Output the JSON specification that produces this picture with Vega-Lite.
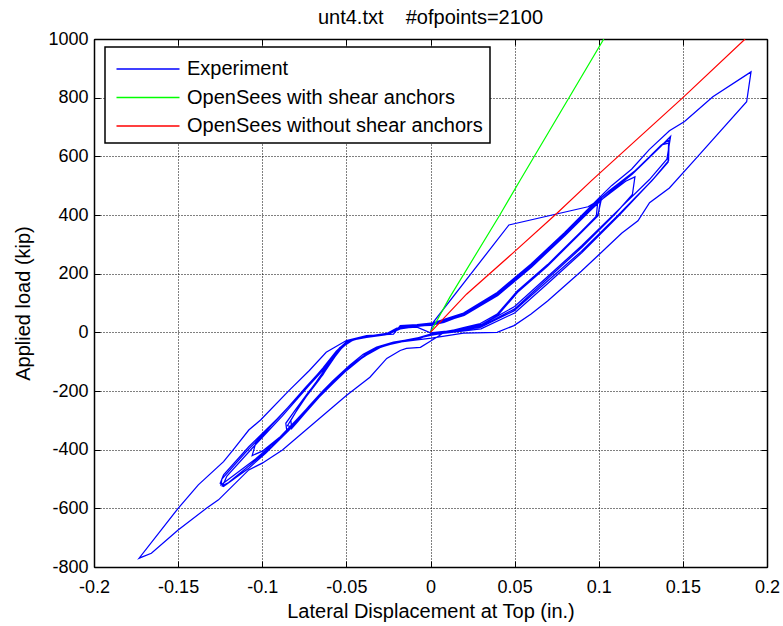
{
  "$schema": "https://vega.github.io/schema/vega-lite/v6.json",
  "width": 673,
  "height": 528,
  "autosize": "none",
  "padding": {"left": 94, "top": 39, "right": 16, "bottom": 59},
  "background": "white",
  "title": {"text": "unt4.txt\u00a0\u00a0\u00a0\u00a0#ofpoints=2100", "font": "Liberation Sans", "fontSize": 20, "fontWeight": "normal", "color": "#000", "offset": 2},
  "datasets": {
    "exp": [
      {"x":0,"y":0},
      {"x":0.0016,"y":34},{"x":0.0466,"y":366},{"x":0.0936,"y":428},{"x":0.1016,"y":455},
      {"x":0.0996,"y":402},{"x":0.0896,"y":344},{"x":0.0696,"y":231},{"x":0.0516,"y":141},{"x":0.0396,"y":62},{"x":0.0296,"y":30},{"x":0.0196,"y":12},{"x":0.0096,"y":4},{"x":0,"y":-2},
      {"x":-0.008,"y":18},{"x":-0.018,"y":14},{"x":-0.024,"y":-4},{"x":-0.04,"y":-16},{"x":-0.048,"y":-30},{"x":-0.054,"y":-60},{"x":-0.06,"y":-110},{"x":-0.066,"y":-160},{"x":-0.074,"y":-220},{"x":-0.081,"y":-280},{"x":-0.085,"y":-318},{"x":-0.083,"y":-322},{"x":-0.078,"y":-290},{"x":-0.072,"y":-250},{"x":-0.064,"y":-200},{"x":-0.058,"y":-165},{"x":-0.048,"y":-112},{"x":-0.04,"y":-75},{"x":-0.032,"y":-50},{"x":-0.022,"y":-33},{"x":-0.01,"y":-22},{"x":0,"y":-8},
      {"x":0.0096,"y":2},{"x":0.0196,"y":16},{"x":0.0296,"y":30},{"x":0.0396,"y":62},{"x":0.0516,"y":136},{"x":0.0696,"y":226},{"x":0.0896,"y":340},{"x":0.0996,"y":398},{"x":0.101,"y":450},{"x":0.0996,"y":445},{"x":0.0896,"y":390},{"x":0.0796,"y":330},{"x":0.0696,"y":278},{"x":0.0596,"y":222},{"x":0.0496,"y":175},{"x":0.0396,"y":128},{"x":0.0296,"y":92},{"x":0.0196,"y":60},{"x":0.0096,"y":38},{"x":0.0016,"y":26},
      {"x":-0.006,"y":25},{"x":-0.018,"y":20},{"x":-0.022,"y":2},{"x":-0.03,"y":-8},{"x":-0.042,"y":-18},{"x":-0.05,"y":-36},{"x":-0.056,"y":-70},{"x":-0.062,"y":-120},{"x":-0.068,"y":-170},{"x":-0.076,"y":-232},{"x":-0.083,"y":-300},{"x":-0.0825,"y":-328},{"x":-0.079,"y":-305},{"x":-0.072,"y":-258},{"x":-0.062,"y":-190},{"x":-0.054,"y":-150},{"x":-0.046,"y":-108},{"x":-0.036,"y":-64},{"x":-0.026,"y":-40},{"x":-0.014,"y":-26},{"x":0,"y":-10},
      {"x":0.01,"y":0},{"x":0.02,"y":14},{"x":0.03,"y":26},{"x":0.04,"y":58},{"x":0.052,"y":138},{"x":0.07,"y":230},{"x":0.09,"y":346},{"x":0.0985,"y":392},{"x":0.0995,"y":452},{"x":0.098,"y":438},{"x":0.089,"y":388},{"x":0.078,"y":322},{"x":0.068,"y":270},{"x":0.058,"y":218},{"x":0.048,"y":170},{"x":0.038,"y":124},{"x":0.028,"y":88},{"x":0.018,"y":56},{"x":0.008,"y":34},{"x":0,"y":24},
      {"x":-0.008,"y":22},{"x":-0.016,"y":18},{"x":-0.024,"y":-2},{"x":-0.036,"y":-12},{"x":-0.046,"y":-24},{"x":-0.052,"y":-46},{"x":-0.058,"y":-90},{"x":-0.064,"y":-145},{"x":-0.072,"y":-200},{"x":-0.08,"y":-262},{"x":-0.086,"y":-310},{"x":-0.0855,"y":-332},{"x":-0.08,"y":-310},{"x":-0.074,"y":-272},{"x":-0.066,"y":-220},{"x":-0.058,"y":-172},{"x":-0.05,"y":-130},{"x":-0.04,"y":-82},{"x":-0.03,"y":-50},{"x":-0.018,"y":-30},{"x":-0.006,"y":-20},{"x":0,"y":-6},
      {"x":0.01,"y":2},{"x":0.03,"y":20},{"x":0.05,"y":80},{"x":0.07,"y":185},{"x":0.09,"y":290},{"x":0.11,"y":405},{"x":0.12,"y":470},{"x":0.1215,"y":530},{"x":0.116,"y":515},{"x":0.1,"y":445},{"x":0.08,"y":335},{"x":0.06,"y":228},{"x":0.04,"y":132},{"x":0.02,"y":62},{"x":0.002,"y":28},
      {"x":-0.008,"y":20},{"x":-0.02,"y":14},{"x":-0.026,"y":-4},{"x":-0.04,"y":-15},{"x":-0.05,"y":-32},{"x":-0.056,"y":-64},{"x":-0.064,"y":-122},{"x":-0.078,"y":-215},{"x":-0.092,"y":-300},{"x":-0.104,"y":-380},{"x":-0.106,"y":-420},{"x":-0.1,"y":-405},{"x":-0.088,"y":-350},{"x":-0.076,"y":-280},{"x":-0.064,"y":-205},{"x":-0.052,"y":-140},{"x":-0.04,"y":-84},{"x":-0.028,"y":-46},{"x":-0.014,"y":-28},{"x":0,"y":-10},
      {"x":0.0096,"y":0},{"x":0.0296,"y":17},{"x":0.0496,"y":73},{"x":0.0696,"y":175},{"x":0.0896,"y":276},{"x":0.1116,"y":400},{"x":0.1314,"y":516},{"x":0.1412,"y":580},{"x":0.1415,"y":645},{"x":0.1373,"y":639},{"x":0.1195,"y":538},{"x":0.1047,"y":475},{"x":0.0996,"y":448},{"x":0.0796,"y":336},{"x":0.0596,"y":228},{"x":0.0396,"y":132},{"x":0.0196,"y":64},{"x":0.0016,"y":30},
      {"x":-0.008,"y":23},{"x":-0.018,"y":17},{"x":-0.026,"y":-6},{"x":-0.04,"y":-16},{"x":-0.048,"y":-28},{"x":-0.054,"y":-52},{"x":-0.06,"y":-98},{"x":-0.074,"y":-186},{"x":-0.088,"y":-277},{"x":-0.108,"y":-390},{"x":-0.123,"y":-486},{"x":-0.125,"y":-515},{"x":-0.123,"y":-525},{"x":-0.108,"y":-463},{"x":-0.098,"y":-412},{"x":-0.084,"y":-333},{"x":-0.072,"y":-254},{"x":-0.058,"y":-175},{"x":-0.048,"y":-119},{"x":-0.034,"y":-56},{"x":-0.022,"y":-34},{"x":-0.01,"y":-23},{"x":0,"y":-6},
      {"x":0.01,"y":4},{"x":0.03,"y":24},{"x":0.05,"y":88},{"x":0.07,"y":192},{"x":0.09,"y":296},{"x":0.11,"y":408},{"x":0.13,"y":520},{"x":0.1405,"y":590},{"x":0.1427,"y":668},{"x":0.1365,"y":632},{"x":0.12,"y":540},{"x":0.105,"y":470},{"x":0.095,"y":415},{"x":0.08,"y":330},{"x":0.06,"y":222},{"x":0.04,"y":126},{"x":0.02,"y":58},{"x":0.002,"y":26},
      {"x":-0.008,"y":20},{"x":-0.018,"y":12},{"x":-0.026,"y":-8},{"x":-0.038,"y":-17},{"x":-0.046,"y":-26},{"x":-0.052,"y":-48},{"x":-0.058,"y":-92},{"x":-0.072,"y":-180},{"x":-0.088,"y":-285},{"x":-0.106,"y":-395},{"x":-0.121,"y":-490},{"x":-0.1235,"y":-522},{"x":-0.12,"y":-512},{"x":-0.106,"y":-446},{"x":-0.094,"y":-388},{"x":-0.082,"y":-316},{"x":-0.07,"y":-240},{"x":-0.058,"y":-168},{"x":-0.046,"y":-106},{"x":-0.034,"y":-60},{"x":-0.022,"y":-36},{"x":-0.01,"y":-24},{"x":0,"y":-8},
      {"x":0.01,"y":-2},{"x":0.03,"y":12},{"x":0.05,"y":66},{"x":0.07,"y":168},{"x":0.09,"y":272},{"x":0.112,"y":398},{"x":0.132,"y":520},{"x":0.1415,"y":585},{"x":0.1418,"y":655},{"x":0.138,"y":642},{"x":0.121,"y":548},{"x":0.106,"y":482},{"x":0.1,"y":452},{"x":0.08,"y":340},{"x":0.06,"y":232},{"x":0.04,"y":136},{"x":0.02,"y":66},{"x":0.002,"y":30},
      {"x":-0.008,"y":24},{"x":-0.018,"y":18},{"x":-0.024,"y":-4},{"x":-0.038,"y":-14},{"x":-0.048,"y":-30},{"x":-0.054,"y":-58},{"x":-0.062,"y":-112},{"x":-0.076,"y":-200},{"x":-0.09,"y":-290},{"x":-0.11,"y":-410},{"x":-0.124,"y":-500},{"x":-0.1245,"y":-520},{"x":-0.121,"y":-505},{"x":-0.104,"y":-432},{"x":-0.092,"y":-372},{"x":-0.08,"y":-300},{"x":-0.068,"y":-226},{"x":-0.056,"y":-160},{"x":-0.044,"y":-100},{"x":-0.032,"y":-55},{"x":-0.02,"y":-34},{"x":-0.008,"y":-26},{"x":0.0006,"y":-20},
      {"x":0.0196,"y":-3},{"x":0.0396,"y":0},{"x":0.0496,"y":23},{"x":0.0596,"y":62},{"x":0.0696,"y":107},{"x":0.0896,"y":208},{"x":0.0996,"y":262},{"x":0.1136,"y":338},{"x":0.1233,"y":380},{"x":0.1302,"y":442},{"x":0.142,"y":492},{"x":0.1589,"y":600},{"x":0.1879,"y":786},{"x":0.1905,"y":888},{"x":0.1678,"y":803},{"x":0.151,"y":719},{"x":0.142,"y":687},{"x":0.13,"y":623},{"x":0.1195,"y":556},{"x":0.1076,"y":500},{"x":0.0996,"y":455},{"x":0.0796,"y":340},{"x":0.0596,"y":232},{"x":0.0396,"y":136},{"x":0.0196,"y":66},{"x":0.0016,"y":32},
      {"x":-0.008,"y":26},{"x":-0.018,"y":23},{"x":-0.022,"y":-6},{"x":-0.038,"y":-11},{"x":-0.05,"y":-28},{"x":-0.062,"y":-68},{"x":-0.072,"y":-130},{"x":-0.084,"y":-198},{"x":-0.101,"y":-299},{"x":-0.108,"y":-333},{"x":-0.1173,"y":-401},{"x":-0.123,"y":-441},{"x":-0.138,"y":-520},{"x":-0.15,"y":-600},{"x":-0.1732,"y":-770},{"x":-0.1659,"y":-753},{"x":-0.15,"y":-674},{"x":-0.1332,"y":-600},{"x":-0.126,"y":-571},{"x":-0.108,"y":-469},{"x":-0.1,"y":-446},{"x":-0.088,"y":-401},{"x":-0.05,"y":-215},{"x":-0.036,"y":-153},{"x":-0.026,"y":-89},{"x":-0.018,"y":-62},{"x":-0.0143,"y":-55},{"x":-0.006,"y":-51},{"x":0.0006,"y":-28},{"x":0.007,"y":-5}
    ],
    "green": [
      {"x":0,"y":0},{"x":0.0115,"y":120},{"x":0.0412,"y":400},{"x":0.0531,"y":517},{"x":0.103,"y":1000}
    ],
    "red": [
      {"x":0,"y":0},{"x":0.0214,"y":130},{"x":0.0491,"y":271},{"x":0.075,"y":405},{"x":0.0957,"y":517},{"x":0.15,"y":800},{"x":0.187,"y":1000}
    ]
  },
  "layer": [
    {
      "data": {"name": "exp"},
      "mark": {"type": "line", "strokeWidth": 1.25, "clip": true},
      "encoding": {
        "x": {"field": "x", "type": "quantitative", "scale": {"domain": [-0.2, 0.2], "nice": false, "zero": false},
              "axis": {"orient": "bottom", "values": [-0.2,-0.15,-0.1,-0.05,0,0.05,0.1,0.15,0.2], "format": ".2~f", "grid": true, "title": "Lateral Displacement at Top (in.)", "titlePadding": 5, "labelPadding": 17}},
        "y": {"field": "y", "type": "quantitative", "scale": {"domain": [-800, 1000], "nice": false, "zero": false},
              "axis": {"orient": "left", "values": [-800,-600,-400,-200,0,200,400,600,800,1000], "format": "d", "grid": true, "title": "Applied load (kip)", "titlePadding": 14, "labelPadding": 12}},
        "color": {"datum": "Experiment", "type": "nominal",
                  "scale": {"domain": ["Experiment", "OpenSees with shear anchors", "OpenSees without shear anchors"], "range": ["#0000ff", "#00ff00", "#ff0000"]},
                  "legend": {"orient": "none", "legendX": 11, "legendY": 8, "title": null,
                             "encode": {"symbols": {"update": {"stroke": {"scale": "color", "field": "value"}, "fill": {"value": "transparent"}, "strokeWidth": {"value": 1.5}, "opacity": {"value": 1}}}}}},
        "order": {"value": null}
      }
    },
    {
      "data": {"name": "green"},
      "mark": {"type": "line", "strokeWidth": 1.2, "clip": true},
      "encoding": {
        "x": {"field": "x", "type": "quantitative", "axis": {"orient": "top", "values": [-0.2,-0.15,-0.1,-0.05,0,0.05,0.1,0.15,0.2], "labels": false, "grid": false, "title": null}},
        "y": {"field": "y", "type": "quantitative", "axis": {"orient": "right", "values": [-800,-600,-400,-200,0,200,400,600,800,1000], "labels": false, "grid": false, "title": null}},
        "color": {"datum": "OpenSees with shear anchors", "type": "nominal"},
        "order": {"value": null}
      }
    },
    {
      "data": {"name": "red"},
      "mark": {"type": "line", "strokeWidth": 1.2, "clip": true},
      "encoding": {
        "x": {"field": "x", "type": "quantitative", "axis": null},
        "y": {"field": "y", "type": "quantitative", "axis": null},
        "color": {"datum": "OpenSees without shear anchors", "type": "nominal"},
        "order": {"value": null}
      }
    }
  ],
  "resolve": {"axis": {"x": "independent", "y": "independent"}},
  "config": {
    "locale": {"number": {"decimal": ".", "thousands": ",", "grouping": [3], "currency": ["$", ""], "minus": "-"}},
    "view": {"stroke": null},
    "axis": {
      "domainColor": "#000", "domainWidth": 1.5, "tickColor": "#000", "tickSize": -6, "tickWidth": 1,
      "labelFont": "Liberation Sans", "labelFontSize": 18, "labelColor": "#000",
      "titleFont": "Liberation Sans", "titleFontSize": 20, "titleFontWeight": "normal", "titleColor": "#000",
      "gridColor": "#000", "gridDash": [1, 2], "gridOpacity": 1, "gridWidth": 1, "labelFlush": false, "labelOverlap": false
    },
    "legend": {
      "strokeColor": "#000", "strokeWidth": 1.5, "fillColor": "#fff", "padding": 7, "cornerRadius": 0,
      "symbolType": "M-2.25,0H2.25", "symbolSize": 784, "symbolStrokeWidth": 1.5, "symbolOffset": 21,
      "labelFont": "Liberation Sans", "labelFontSize": 20, "labelColor": "#000", "labelLimit": 500, "labelOffset": 24, "rowPadding": 3.5
    }
  }
}
